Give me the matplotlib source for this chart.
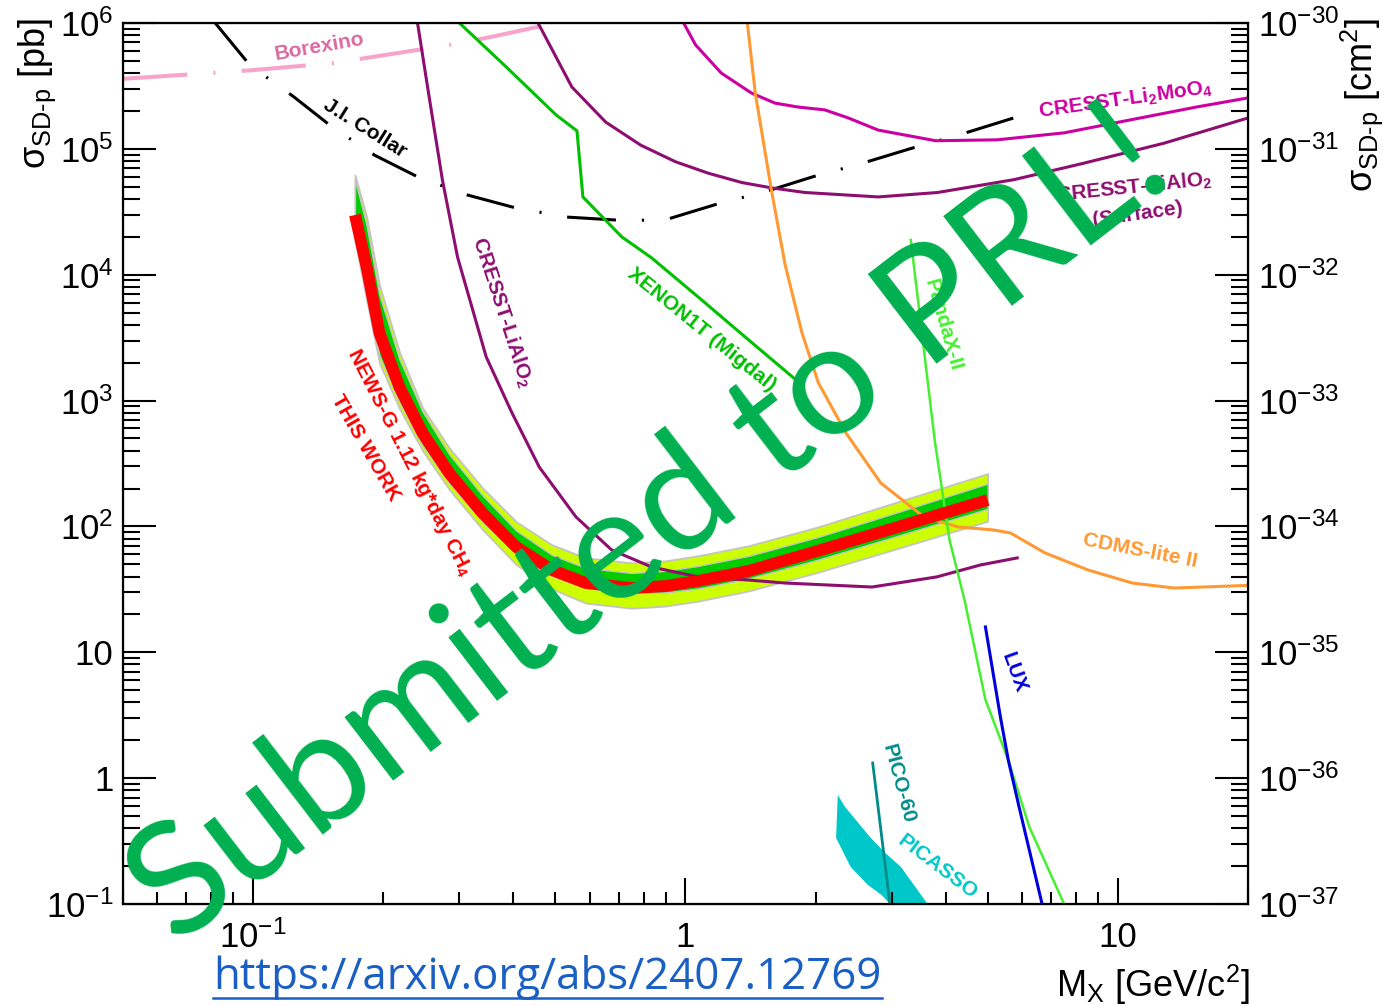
import matplotlib
matplotlib.use("Agg")
import matplotlib.pyplot as plt
from matplotlib.lines import Line2D
from matplotlib.ticker import FixedLocator, FixedFormatter, NullFormatter

plt.rcParams['font.family'] = ['Liberation Sans', 'DejaVu Sans']
plt.rcParams['mathtext.fontset'] = 'custom'
plt.rcParams['mathtext.rm'] = 'Liberation Sans'
plt.rcParams['mathtext.it'] = 'Liberation Sans:italic'
plt.rcParams['mathtext.bf'] = 'Liberation Sans:bold'
plt.rcParams['mathtext.sf'] = 'Liberation Sans'

# ---- NEWS-G (this work): observed limit + expected bands [GeV, pb]
newsg_mass = [0.172, 0.183, 0.196, 0.218, 0.2465, 0.284, 0.339, 0.406, 0.491,
              0.588, 0.751, 0.899, 1.07, 1.40, 2.02, 3.10, 5.0]
newsg_limit = [2.98e4, 1.15e4, 3440, 1280, 553, 266, 128, 68.7, 45.1,
               35.5, 32.4, 33.6, 36.9, 44.3, 63.8, 99.0, 162]
band2_hi = [6.2e4, 2.89e4, 8260, 2430, 877, 422, 203, 109, 71.5,
            56.3, 51.4, 53.3, 58.5, 70.2, 98.9, 157, 263]
band1_hi = [5.68e4, 2.46e4, 6880, 2120, 818, 375, 177, 92.7, 59.4,
            46.8, 42.7, 44.3, 48.6, 58.4, 82.2, 130, 219]
band1_lo = [2.11e4, 7260, 2270, 971, 439, 221, 109, 59.8, 40.2,
            32.4, 29.5, 29.9, 32.1, 38.6, 54.3, 84.3, 138]
band2_lo = [1.88e4, 6320, 1980, 865, 400, 197, 94.8, 49.7, 31.9,
            24.6, 22.4, 23.3, 25.5, 30.7, 43.1, 66.9, 110]

# ---- other experiments
borexino_m = [0.050, 0.098, 0.153, 0.218, 0.300, 0.371, 0.50]
borexino_xs = [3.6e5, 4.2e5, 4.8e5, 5.8e5, 6.9e5, 8.0e5, 1.0e6]

collar_m = [0.0817, 0.0984, 0.124, 0.152, 0.191, 0.240, 0.313, 0.404, 0.532,
            0.690, 0.78, 0.914, 1.17, 1.54, 1.97, 2.57, 3.30, 4.32, 6.17]
collar_xs = [1.0e6, 4.6e5, 2.6e5, 1.5e5, 8.9e4, 6.0e4, 4.3e4, 3.4e4, 2.87e4,
             2.72e4, 2.70e4, 2.78e4, 3.6e4, 4.6e4, 6.0e4, 7.7e4, 1.0e5, 1.3e5, 1.9e5]

lialo_m = [0.240, 0.256, 0.274, 0.297, 0.346, 0.397, 0.459, 0.558, 0.675,
           0.835, 1.07, 1.40, 1.70, 2.70, 3.81, 4.81, 5.85]
lialo_xs = [1.0e6, 2.44e5, 5.66e4, 1.38e4, 2220, 797, 296, 119, 65,
            47.6, 39.7, 37.5, 35.5, 33.0, 39.7, 49.4, 56.2]

surf_m = [0.456, 0.546, 0.654, 0.788, 0.948, 1.13, 1.35, 1.58, 1.89,
          2.79, 3.83, 5.76, 8.35, 12.8, 20]
surf_xs = [1.0e6, 3.1e5, 1.63e5, 1.07e5, 7.9e4, 6.4e4, 5.4e4, 4.9e4, 4.5e4,
           4.15e4, 4.5e4, 5.7e4, 7.7e4, 1.11e5, 1.76e5]

limo_m = [0.99, 1.055, 1.21, 1.42, 1.61, 1.82, 2.10, 2.38, 2.79, 3.79,
          5.26, 7.51, 10.7, 15.2, 20]
limo_xs = [1.0e6, 6.7e5, 4.0e5, 2.78e5, 2.31e5, 2.15e5, 2.04e5, 1.76e5, 1.41e5,
           1.16e5, 1.18e5, 1.34e5, 1.70e5, 2.15e5, 2.54e5]

xenon_m = [0.300, 0.385, 0.502, 0.561, 0.579, 0.712, 0.835, 1.07, 1.40, 1.86]
xenon_xs = [1.0e6, 4.47e5, 1.86e5, 1.39e5, 4.15e4, 2.0e4, 1.36e4, 6650, 3030, 1330]

cdms_m = [1.39, 1.45, 1.58, 1.70, 1.86, 2.03, 2.35, 2.83, 3.56, 4.28, 5.15,
          5.64, 6.79, 8.53, 10.8, 13.5, 20]
cdms_xs = [1.0e6, 2.78e5, 4.71e4, 1.2e4, 3440, 1380, 553, 221, 119, 99, 93.8,
           88.8, 61.5, 45.1, 35.5, 32.4, 34.0]

pandax_m = [3.32, 3.77, 4.08, 4.42, 4.94, 5.58, 6.24, 7.51]
pandax_xs = [1.89e4, 486, 78, 26, 4.2, 1.39, 0.41, 0.1]

lux_m = [4.94, 5.35, 5.58, 5.91, 6.68]
lux_xs = [15.9, 3.06, 1.39, 0.59, 0.1]

pico_m = [2.71, 2.97]
pico_xs = [1.32, 0.1]

picasso_m = [2.25, 2.34, 2.67, 2.90, 3.15, 3.63, 2.97, 2.84, 2.64, 2.41, 2.23]
picasso_xs = [0.735, 0.59, 0.341, 0.254, 0.197, 0.1, 0.1, 0.118, 0.142, 0.197, 0.335]

# ---- figure
W, H = 1383, 1006
fig = plt.figure(figsize=(W / 100, H / 100), dpi=100)
ax = fig.add_axes([123 / W, 1 - 904 / H, (1248 - 123) / W, (904 - 23) / H])
ax.set_xscale('log')
ax.set_yscale('log')
ax.set_xlim(0.05, 20)
ax.set_ylim(0.1, 1e6)

ax.plot(borexino_m, borexino_xs, color='#f7a3cc', lw=2.9,
        dashes=(16, 6.5, 0.5, 6.5), dash_capstyle='butt')
ax.plot(collar_m, collar_xs, color='black', lw=2.2,
        dashes=(16, 8.5, 0.7, 8.5), dash_capstyle='butt')
ax.plot(lialo_m, lialo_xs, color='#8e0e70', lw=2.2)
ax.plot(surf_m, surf_xs, color='#8e0e70', lw=2.2)
ax.plot(limo_m, limo_xs, color='#cc00a0', lw=2.2)
ax.plot(xenon_m, xenon_xs, color='#00c000', lw=2.2)
ax.plot(cdms_m, cdms_xs, color='#ff9933', lw=2.2)
ax.plot(pandax_m, pandax_xs, color='#44f030', lw=1.8)
ax.plot(lux_m, lux_xs, color='#0000dd', lw=2.2)
ax.fill(picasso_m, picasso_xs, color='#00c8c8', lw=0)
ax.plot(pico_m, pico_xs, color='#008b8b', lw=2.0)

ax.fill_between(newsg_mass, band2_lo, band2_hi, facecolor='#ccff00',
                edgecolor='#c4c4c4', lw=1.3)
ax.fill_between(newsg_mass, band1_lo, band1_hi, facecolor='#00cc00',
                edgecolor='#c4c4c4', lw=1.0)
ax.plot(newsg_mass, newsg_limit, color='#ff0000', lw=8.5, solid_capstyle='butt')

lab = dict(rotation_mode='anchor', ha='center', va='center',
           fontweight='bold', fontsize=15)
ax.text(0.1427, 6.45e5, 'Borexino', color='#d96aa0', rotation=10, **lab)
ax.text(0.181, 1.47e5, 'J.I. Collar', color='black', rotation=-32, **lab)
ax.text(0.377, 5060, r'CRESST-LiAlO$_\mathbf{2}$', color='#8e0e70', rotation=-72, **lab)
ax.text(1.089, 3640, 'XENON1T (Migdal)', color='#00c000', rotation=-39, **lab)
ax.text(0.230, 325, r'NEWS-G 1.12 kg*day CH$_\mathbf{4}$', color='#ff0000', rotation=-63, **lab)
ax.text(0.182, 420, 'THIS WORK', color='#ff0000', rotation=-60, **lab)
ax.text(10.43, 2.44e5, r'CRESST-Li$_\mathbf{2}$MoO$_\mathbf{4}$', color='#cc00a0', rotation=8, **lab)
ax.text(10.89, 4.89e4, r'CRESST-LiAlO$_\mathbf{2}$', color='#8e0e70', rotation=6, **lab)
ax.text(11.1, 3.04e4, '(Surface)', color='#8e0e70', rotation=8, **lab)
ax.text(3.95, 3990, 'PandaX-II', color='#44f030', rotation=-74, **lab)
ax.text(11.24, 63.8, 'CDMS-lite II', color='#ff9933', rotation=-11, **lab)
ax.text(5.76, 6.86, 'LUX', color='#0000dd', rotation=-70, **lab)
ax.text(3.11, 0.899, 'PICO-60', color='#008b8b', rotation=-75, **lab)
ax.text(3.83, 0.197, 'PICASSO', color='#00c8c8', rotation=-37, **lab)

# ---- axes / ticks (ROOT style)
decades = [1e-1, 1, 10, 1e2, 1e3, 1e4, 1e5]
minor_y = [k * d for d in decades for k in range(2, 10)]
ax.yaxis.set_major_locator(FixedLocator([0.1, 1, 10, 1e2, 1e3, 1e4, 1e5, 1e6]))
ax.yaxis.set_major_formatter(FixedFormatter(
    [r'$10^{-1}$', '1', '10', r'$10^{2}$', r'$10^{3}$', r'$10^{4}$', r'$10^{5}$', r'$10^{6}$']))
ax.yaxis.set_minor_locator(FixedLocator(minor_y))
ax.yaxis.set_minor_formatter(NullFormatter())

minor_x = [k * d for d in [0.01, 0.1, 1, 10] for k in range(2, 10)]
ax.xaxis.set_major_locator(FixedLocator([0.1, 1, 10]))
ax.xaxis.set_major_formatter(FixedFormatter([r'$10^{-1}$', '1', '10']))
ax.xaxis.set_minor_locator(FixedLocator(minor_x))
ax.xaxis.set_minor_formatter(NullFormatter())

ax.tick_params(axis='y', which='major', direction='in', length=24, width=1.5,
               labelsize=25, pad=7, right=False)
ax.tick_params(axis='y', which='minor', direction='in', length=12, width=1.5, right=False)
ax.tick_params(axis='x', which='major', direction='in', length=19, width=1.5,
               labelsize=25, pad=12, top=False)
ax.tick_params(axis='x', which='minor', direction='in', length=9, width=1.5, top=False)
for s in ax.spines.values():
    s.set_linewidth(1.6)

ax2 = ax.twinx()
ax2.set_yscale('log')
ax2.set_ylim(1e-37, 1e-30)
cm_major = [1e-37, 1e-36, 1e-35, 1e-34, 1e-33, 1e-32, 1e-31, 1e-30]
ax2.yaxis.set_major_locator(FixedLocator(cm_major))
ax2.yaxis.set_major_formatter(FixedFormatter(
    [r'$10^{-37}$', r'$10^{-36}$', r'$10^{-35}$', r'$10^{-34}$',
     r'$10^{-33}$', r'$10^{-32}$', r'$10^{-31}$', r'$10^{-30}$']))
ax2.yaxis.set_minor_locator(FixedLocator([k * d for d in cm_major[:-1] for k in range(2, 10)]))
ax2.yaxis.set_minor_formatter(NullFormatter())
ax2.tick_params(axis='y', which='major', direction='in', length=24, width=1.5,
                labelsize=25, pad=7)
ax2.tick_params(axis='y', which='minor', direction='in', length=12, width=1.5)

fig.text(37 / W, 1 - 18 / H, r'σ$_{\text{SD-p}}$ [pb]', rotation=90,
         ha='center', va='top', fontsize=26)
fig.text(1362 / W, 1 - 18 / H, r'σ$_{\text{SD-p}}$ [cm$^{2}$]', rotation=90,
         ha='center', va='top', fontsize=26)
fig.text(1250 / W, 1 - 985 / H, r'M$_{\mathrm{X}}$ [GeV/c$^{2}$]',
         ha='right', va='center', fontsize=26)

# watermark + link
fig.text(650 / W, 1 - 528 / H, 'Submitted to PRL!', rotation=37.5,
         rotation_mode='anchor', ha='center', va='center', fontsize=114,
         color='#00b050', family='Lato', zorder=10)
fig.text(213 / W, 1 - 978 / H, 'https://arxiv.org/abs/2407.12769',
         ha='left', va='center', fontsize=31.5, color='#1a5fc4', family='Open Sans')
fig.add_artist(Line2D([213 / W, 882 / W], [1 - 998 / H, 1 - 998 / H],
                      color='#1a5fc4', lw=1.8))

fig.savefig('out.png', dpi=100, facecolor='white')
